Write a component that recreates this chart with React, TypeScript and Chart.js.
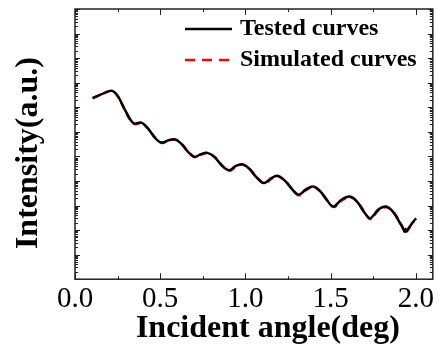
import React, { useEffect, useRef } from "react";
import { Chart, registerables } from "chart.js";

Chart.register(...registerables);

const testedX = [0.103, 0.15, 0.214, 0.25, 0.29, 0.33, 0.35, 0.389, 0.43, 0.47, 0.506, 0.545, 0.583, 0.62, 0.66, 0.70, 0.74, 0.777, 0.82, 0.86, 0.904, 0.94, 0.981, 1.02, 1.06, 1.108, 1.15, 1.186, 1.23, 1.27, 1.312, 1.355, 1.399, 1.44, 1.48, 1.516, 1.565, 1.613, 1.655, 1.695, 1.73, 1.755, 1.78, 1.827, 1.87, 1.91, 1.925, 1.934, 1.94, 1.945, 1.96, 1.985, 2.002];
const testedY = [2.38e7, 3.25e7, 4.75e7, 2.96e7, 8.67e6, 2.79e6, 2.16e6, 2.37e6, 1.31e6, 5.58e5, 3.65e5, 4.41e5, 4.94e5, 3.48e5, 1.63e5, 9.53e4, 1.23e5, 1.39e5, 9.27e4, 4.35e4, 2.71e4, 3.96e4, 4.79e4, 3.28e4, 1.54e4, 8.17e3, 1.27e4, 1.64e4, 1.05e4, 4.95e3, 2.73e3, 4.51e3, 5.98e3, 3.73e3, 1.59e3, 903, 1.75e3, 2.32e3, 1.45e3, 563, 299, 420, 680, 903, 512, 181, 120, 85, 110, 90, 124, 219, 299];

const simX = [0.103, 0.15, 0.214, 0.25, 0.29, 0.33, 0.355, 0.392, 0.435, 0.475, 0.51, 0.548, 0.586, 0.625, 0.665, 0.705, 0.743, 0.78, 0.825, 0.865, 0.908, 0.944, 0.984, 1.025, 1.065, 1.112, 1.153, 1.19, 1.235, 1.275, 1.316, 1.358, 1.402, 1.445, 1.485, 1.52, 1.568, 1.616, 1.66, 1.7, 1.734, 1.782, 1.83, 1.875, 1.915, 1.938, 1.963, 1.99];
const simY = [2.3e7, 3.2e7, 4.6e7, 2.9e7, 8.3e6, 2.6e6, 2.05e6, 2.3e6, 1.25e6, 5.3e5, 3.5e5, 4.3e5, 4.8e5, 3.3e5, 1.55e5, 9.2e4, 1.2e5, 1.35e5, 8.9e4, 4.2e4, 2.6e4, 3.8e4, 4.6e4, 3.1e4, 1.48e4, 7.8e3, 1.22e4, 1.58e4, 1.0e4, 4.7e3, 2.6e3, 4.3e3, 5.7e3, 3.5e3, 1.5e3, 860, 1.65e3, 2.2e3, 1.35e3, 530, 280, 640, 850, 470, 165, 80, 125, 230];

const xTickValues = [0.0, 0.5, 1.0, 1.5, 2.0];
const legendLabels = ["Tested curves", "Simulated curves"];
const xTitle = "Incident angle(deg)";
const yTitle = "Intensity(a.u.)";

const SERIF = "'Liberation Serif', 'Times New Roman', serif";

const framePlugin = {
  id: "frameTicks",
  afterDraw(chart: any) {
    const { ctx, chartArea } = chart;
    const { left, right, top, bottom } = chartArea;
    const xs = chart.scales.x;
    const ys = chart.scales.y;
    ctx.save();
    ctx.strokeStyle = "#222";
    ctx.lineWidth = 1.5;
    ctx.strokeRect(left, top, right - left, bottom - top);
    ctx.lineWidth = 1;
    for (let v = 0; v <= 2.1001; v += 0.25) {
      const px = Math.round(xs.getPixelForValue(v)) + 0.5;
      const major = Math.abs(v / 0.5 - Math.round(v / 0.5)) < 1e-6;
      const len = major ? 6 : 3;
      ctx.beginPath();
      ctx.moveTo(px, bottom);
      ctx.lineTo(px, bottom - len);
      ctx.moveTo(px, top);
      ctx.lineTo(px, top + len);
      ctx.stroke();
    }
    for (let d = 0; d <= 11; d++) {
      for (let k = 1; k <= 9; k++) {
        const v = k * Math.pow(10, d);
        if (v < ys.min || v > ys.max) continue;
        const py = Math.round(ys.getPixelForValue(v)) + 0.5;
        const len = k === 1 ? 5 : 3;
        ctx.beginPath();
        ctx.moveTo(left, py);
        ctx.lineTo(left + len, py);
        ctx.moveTo(right, py);
        ctx.lineTo(right - len, py);
        ctx.stroke();
      }
    }
    // legend
    const lx0 = left + 110;
    const lx1 = left + 157;
    const tx = left + 165;
    const rows = [top + 20, top + 51];
    ctx.lineWidth = 2.5;
    ctx.strokeStyle = "#000";
    ctx.beginPath();
    ctx.moveTo(lx0, rows[0]);
    ctx.lineTo(lx1, rows[0]);
    ctx.stroke();
    ctx.strokeStyle = "#ff0000";
    ctx.setLineDash([10, 7]);
    ctx.beginPath();
    ctx.moveTo(lx0, rows[1]);
    ctx.lineTo(lx1, rows[1]);
    ctx.stroke();
    ctx.setLineDash([]);
    ctx.fillStyle = "#000";
    ctx.font = "bold 24px " + SERIF;
    ctx.textBaseline = "middle";
    ctx.textAlign = "left";
    ctx.fillText(legendLabels[0], tx, rows[0]);
    ctx.fillText(legendLabels[1], tx, rows[1]);
    // axis titles
    ctx.font = "bold 32px " + SERIF;
    ctx.textAlign = "center";
    ctx.textBaseline = "alphabetic";
    ctx.fillText(xTitle, (left + right) / 2 + 14, chart.height - 10);
    ctx.save();
    ctx.translate(37, (top + bottom) / 2 + 9);
    ctx.rotate(-Math.PI / 2);
    ctx.fillText(yTitle, 0, 0);
    ctx.restore();
    ctx.restore();
  },
};

export default function App() {
  const ref = useRef<HTMLCanvasElement | null>(null);
  useEffect(() => {
    document.body.style.margin = "0";
    const canvas = ref.current;
    if (!canvas) return;
    const chart = new Chart(canvas, {
      type: "line",
      data: {
        datasets: [
          {
            label: legendLabels[0],
            data: testedX.map((x, i) => ({ x, y: testedY[i] })),
            borderColor: "#000",
            borderWidth: 2.5,
            pointRadius: 0,
            tension: 0.35,
            fill: false,
          },
          {
            label: legendLabels[1],
            data: simX.map((x, i) => ({ x, y: simY[i] })),
            borderColor: "#ff0000",
            borderWidth: 2.5,
            borderDash: [7, 5],
            pointRadius: 0,
            tension: 0.35,
            fill: false,
          },
        ],
      },
      options: {
        animation: false,
        responsive: false,
        layout: { padding: { left: 75, right: 2, top: 9, bottom: 27 } },
        plugins: { legend: { display: false }, tooltip: { enabled: false } },
        scales: {
          x: {
            type: "linear",
            min: 0,
            max: 2.1,
            afterBuildTicks: (scale: any) => {
              scale.ticks = xTickValues.map((v) => ({ value: v }));
            },
            ticks: {
              color: "#000",
              font: { family: SERIF, size: 29 },
              padding: 3,
              maxRotation: 0,
              autoSkip: false,
              callback: (v: any) => Number(v).toFixed(1),
            },
            grid: { display: false, drawTicks: false },
            border: { display: false },
            title: { display: false, text: xTitle },
          },
          y: {
            type: "logarithmic",
            min: 1,
            max: 1e11,
            ticks: { display: false },
            grid: { display: false, drawTicks: false },
            border: { display: false },
            title: { display: false, text: yTitle },
          },
        },
      },
      plugins: [framePlugin],
    });
    return () => chart.destroy();
  }, []);
  return <canvas ref={ref} width={437} height={347} style={{ display: "block" }} />;
}
